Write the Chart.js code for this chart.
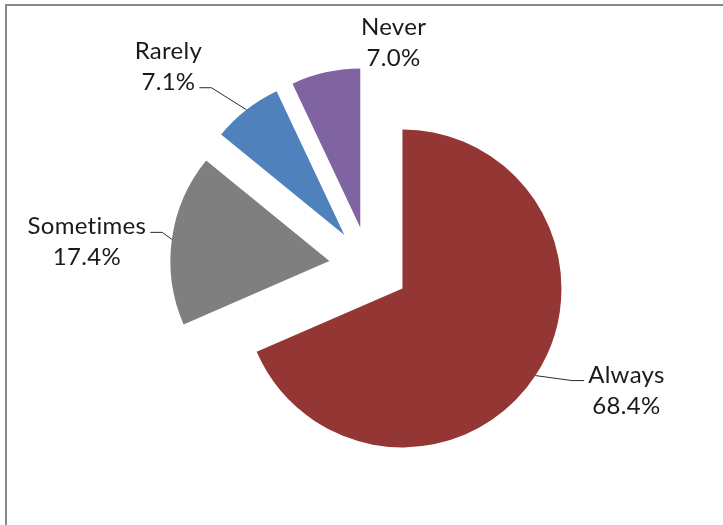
<!DOCTYPE html>
<html>
<head>
<meta charset="utf-8">
<title>Pie chart</title>
<script src="https://cdn.jsdelivr.net/npm/chart.js@4.4.1/dist/chart.umd.min.js"></script>
<style>
  body { margin: 0; background: #fff; overflow: hidden; }
  canvas { display: block; }
</style>
</head>
<body>
<canvas id="myChart" width="723" height="525"></canvas>
<script>
// Data
const categories = ['Always', 'Sometimes', 'Rarely', 'Never'];
const percentValues = [68.4, 17.4, 7.1, 7.0];
const sliceColors = ['#943634', '#7f7f7f', '#4f81bd', '#8064a2'];

// where each label sits, relative to the outer edge of its slice
const labelPlacement = [
  { dx: 91, dy: 7, leader: { side: 'left', line: 0 } },
  { dx: -85, dy: -5, leader: { side: 'right', line: 0 } },
  { dx: -78, dy: -51, leader: { side: 'right', line: 1 } },
  { dx: 68, dy: -37, leader: null }
];

// grey frame round the chart (its right and bottom edges are off the picture)
const framePlugin = {
  id: 'frame',
  beforeDraw(chart) {
    const ctx = chart.ctx;
    ctx.save();
    ctx.strokeStyle = '#888888';
    ctx.lineWidth = 2;
    ctx.strokeRect(6, 5, 800, 600);
    ctx.restore();
  }
};

// push every slice out from the centre along its middle angle
const explodePlugin = {
  id: 'explode',
  afterDatasetUpdate(chart, args, opts) {
    const meta = chart.getDatasetMeta(args.index);
    meta.data.forEach(arc => {
      const mid = (arc.startAngle + arc.endAngle) / 2;
      arc.x += Math.cos(mid) * opts.distance;
      arc.y += Math.sin(mid) * opts.distance;
    });
  }
};

// category + percent labels with leader lines
const labelPlugin = {
  id: 'sliceLabels',
  afterDatasetsDraw(chart, args, opts) {
    const ctx = chart.ctx;
    const meta = chart.getDatasetMeta(0);
    ctx.save();
    ctx.font = opts.font;
    ctx.letterSpacing = '0.3px'; // also stops the "ti" ligature
    ctx.fillStyle = opts.color;
    ctx.strokeStyle = opts.lineColor;
    ctx.lineWidth = 1;
    ctx.textAlign = 'center';
    ctx.textBaseline = 'alphabetic';
    meta.data.forEach((arc, i) => {
      const mid = (arc.startAngle + arc.endAngle) / 2;
      const ax = arc.x + Math.cos(mid) * arc.outerRadius;
      const ay = arc.y + Math.sin(mid) * arc.outerRadius;
      const place = labelPlacement[i];
      const cx = ax + place.dx;
      const lines = [categories[i], percentValues[i].toFixed(1) + '%'];
      lines.forEach((t, k) => {
        ctx.fillText(t, cx, ay + place.dy + k * opts.lineHeight);
      });
      if (place.leader) {
        const k = place.leader.line;
        const w = ctx.measureText(lines[k]).width;
        const by = ay + place.dy + k * opts.lineHeight - 2;
        const sign = place.leader.side === 'left' ? -1 : 1;
        const ex = cx + sign * (w / 2 + 4);
        ctx.beginPath();
        ctx.moveTo(ax, ay);
        ctx.lineTo(ex + sign * 12, by);
        ctx.lineTo(ex, by);
        ctx.stroke();
      }
    });
    ctx.restore();
  }
};

function drawPie() {
  const ctx = document.getElementById('myChart').getContext('2d');
  const myChart = new Chart(ctx, {
    type: 'pie',
    data: {
      labels: categories,
      datasets: [{
        data: percentValues,
        backgroundColor: sliceColors,
        borderWidth: 0
      }]
    },
    options: {
      responsive: false,
      animation: false,
      radius: 159,
      layout: {
        padding: { left: 40, right: 25, top: 30, bottom: 22 }
      },
      plugins: {
        legend: { display: false },
        tooltip: { enabled: false },
        explode: { distance: 40 },
        sliceLabels: {
          font: '24px Lato',
          color: '#1a1a1a',
          lineColor: '#2a2a2a',
          lineHeight: 31
        }
      }
    },
    plugins: [framePlugin, explodePlugin, labelPlugin]
  });
}

drawPie();
</script>
</body>
</html>
